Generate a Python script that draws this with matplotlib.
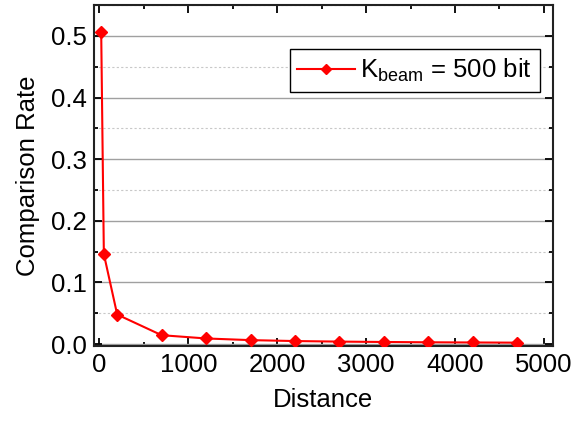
import matplotlib
matplotlib.use("Agg")
import matplotlib.pyplot as plt
from matplotlib.ticker import MultipleLocator

plt.rcParams['font.family'] = ['Liberation Sans', 'DejaVu Sans']
plt.rcParams['mathtext.fontset'] = 'custom'
plt.rcParams['mathtext.rm'] = 'Liberation Sans'

distance = [20, 50, 200, 700, 1200, 1700, 2200, 2700, 3200, 3700, 4200, 4700]
rate = [0.507, 0.146, 0.048, 0.0145, 0.0092, 0.0065, 0.0050, 0.0041, 0.0035, 0.0030, 0.0027, 0.0024]
label = r'K$_\mathregular{beam}$ = 500 bit'
xticks = [0, 1000, 2000, 3000, 4000, 5000]
yticks = [0.0, 0.1, 0.2, 0.3, 0.4, 0.5]

FS = 18.5

fig = plt.figure(figsize=(5.88, 4.24), dpi=100)
ax = fig.add_axes([0.160, 0.184, 0.780, 0.804])

ax.plot(distance, rate, color='red', lw=1.5, marker='D', ms=6.5,
        markeredgecolor='red', markerfacecolor='red', label=label, zorder=3)

ax.set_xlim(-60, 5100)
ax.set_ylim(-0.003, 0.55)
ax.set_xticks(xticks)
ax.set_xticklabels([str(v) for v in xticks])
ax.set_yticks(yticks)
ax.set_yticklabels([f'{v:.1f}' for v in yticks])
ax.xaxis.set_minor_locator(MultipleLocator(500))
ax.yaxis.set_minor_locator(MultipleLocator(0.05))

ax.grid(True, which='major', axis='y', color='#a0a0a0', lw=1.0, ls='-', zorder=0)
ax.grid(True, which='minor', axis='y', color='#c8c8c8', lw=0.8, ls=(0, (2, 2)), zorder=0)
ax.set_axisbelow(True)

ax.tick_params(which='both', direction='in', top=True, right=True, width=1.3, colors='black')
ax.tick_params(which='major', length=5.5, labelsize=FS, pad=5)
ax.tick_params(which='minor', length=3)
for s in ax.spines.values():
    s.set_linewidth(1.5)
    s.set_color('#222222')

ax.set_xlabel('Distance', fontsize=FS, labelpad=8)
ax.set_ylabel('Comparison Rate', fontsize=FS, labelpad=8)

leg = ax.legend(loc='upper right', bbox_to_anchor=(0.972, 0.871), borderaxespad=0,
                fontsize=FS, frameon=True, fancybox=False, edgecolor='black', framealpha=1,
                handlelength=2.25, borderpad=0.3, handletextpad=0.2)
leg.get_frame().set_linewidth(1.0)
for h in leg.legend_handles:
    h.set_markersize(5.5)

fig.savefig('out.png', dpi=100)
